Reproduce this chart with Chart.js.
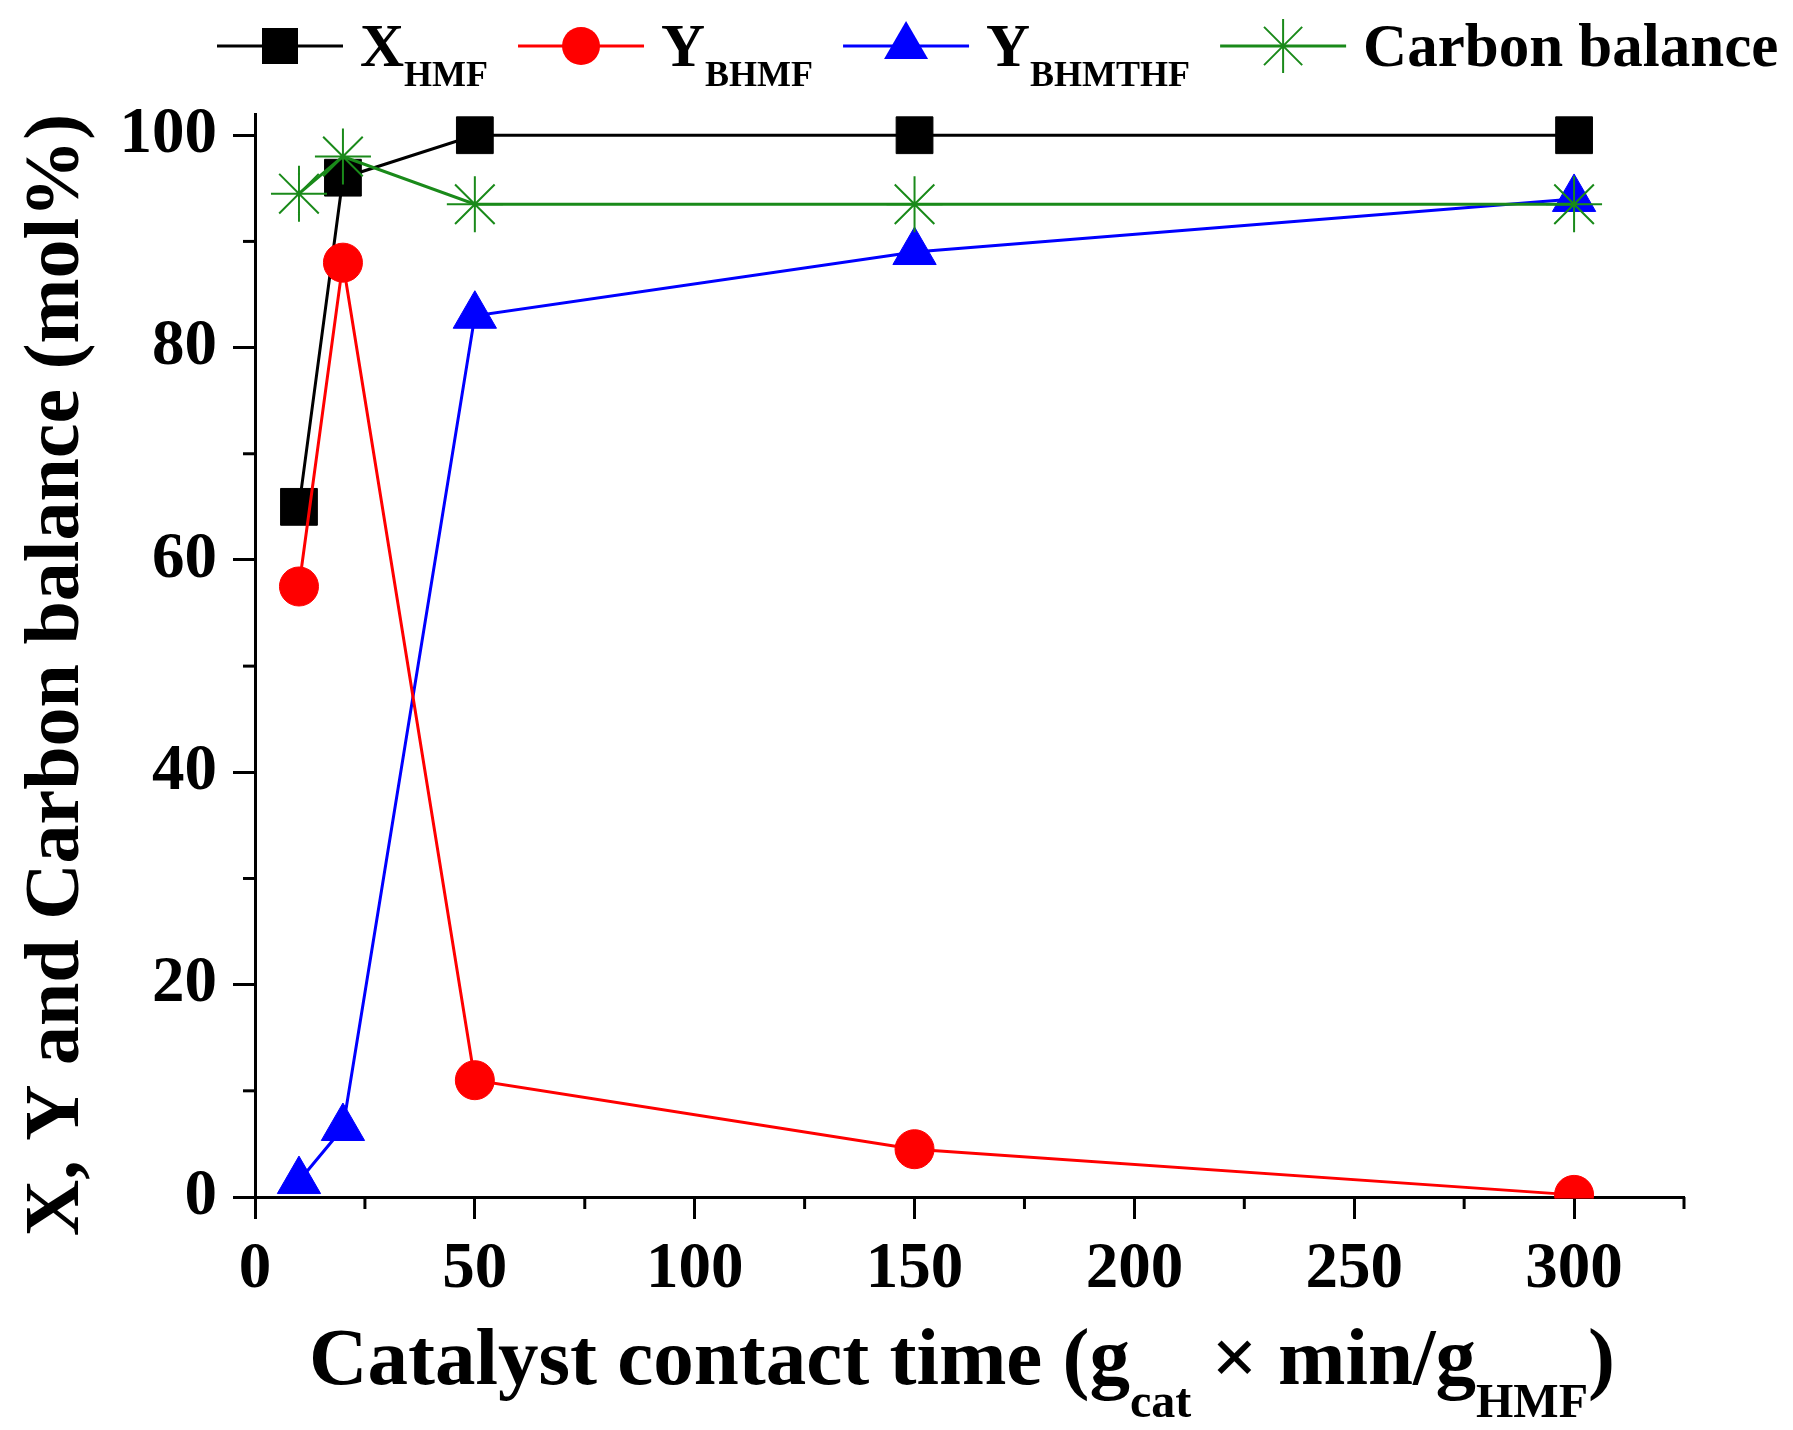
<!DOCTYPE html>
<html>
<head>
<meta charset="utf-8">
<script src="https://cdn.jsdelivr.net/npm/chart.js@4.4.0/dist/chart.umd.min.js"></script>
<style>
  html, body { margin: 0; padding: 0; background: #fff; }
  #wrap { width: 1793px; height: 1430px; }
</style>
</head>
<body>
<div id="wrap"><canvas id="chart" width="1793" height="1430"></canvas></div>
<script>
// values
const contactTime = [10, 20, 50, 150, 300];
const xHMF = [65, 96, 100, 100, 100];
const yBHMF = [57.5, 88, 11, 4.5, 0.2];
const yBHMTHF = [1.5, 6.5, 83, 89, 94];
const carbonBalance = [94.5, 98, 93.5, 93.5, 93.5];

const xTicks = [0, 50, 100, 150, 200, 250, 300];
const xMinor = [25, 75, 125, 175, 225, 275, 325];
const yTicks = [0, 20, 40, 60, 80, 100];
const yMinor = [10, 30, 50, 70, 90];

const GREEN = "#1a8a1a";
const SERIF = '"Liberation Serif", "Times New Roman", serif';

function series(label, values, color, style, radius, order) {
  return {
    label: label,
    data: contactTime.map((x, i) => ({ x: x, y: values[i] })),
    borderColor: color,
    backgroundColor: color,
    borderWidth: 3,
    pointStyle: style,
    pointRadius: radius,
    pointHoverRadius: radius,
    pointBorderWidth: style === "star" ? 2 : 1,
    clip: 1.5,
    order: order
  };
}

// text with subscripts: parts = [{t, sub}]
function richWidth(ctx, parts, size, subSize) {
  let w = 0;
  parts.forEach(p => {
    ctx.font = "bold " + (p.sub ? subSize : size) + "px " + SERIF;
    w += ctx.measureText(p.t).width;
  });
  return w;
}
function drawRich(ctx, parts, x, y, size, subSize, subDrop) {
  ctx.textAlign = "left";
  ctx.textBaseline = "alphabetic";
  parts.forEach(p => {
    ctx.font = "bold " + (p.sub ? subSize : size) + "px " + SERIF;
    ctx.fillText(p.t, x, p.sub ? y + subDrop : y);
    x += ctx.measureText(p.t).width;
  });
  return x;
}

function drawMarker(ctx, style, color, x, y) {
  ctx.fillStyle = color;
  ctx.strokeStyle = color;
  ctx.beginPath();
  if (style === "rect") {
    ctx.rect(x - 18, y - 18, 36, 36);
    ctx.fill();
  } else if (style === "circle") {
    ctx.arc(x, y, 19, 0, Math.PI * 2);
    ctx.fill();
  } else if (style === "triangle") {
    ctx.moveTo(x, y - 25);
    ctx.lineTo(x + 22, y + 13);
    ctx.lineTo(x - 22, y + 13);
    ctx.closePath();
    ctx.fill();
  } else {
    ctx.lineWidth = 2;
    for (let k = 0; k < 4; k++) {
      const a = k * Math.PI / 4;
      ctx.moveTo(x - 27 * Math.cos(a), y - 27 * Math.sin(a));
      ctx.lineTo(x + 27 * Math.cos(a), y + 27 * Math.sin(a));
    }
    ctx.stroke();
  }
}

const legendItems = [
  { color: "#000", style: "rect", parts: [{ t: "X" }, { t: "HMF", sub: true }] },
  { color: "#ff0000", style: "circle", parts: [{ t: "Y" }, { t: "BHMF", sub: true }] },
  { color: "#0000ff", style: "triangle", parts: [{ t: "Y" }, { t: "BHMTHF", sub: true }] },
  { color: GREEN, style: "star", parts: [{ t: "Carbon balance" }] }
];

const decorations = {
  id: "decorations",
  afterDraw(chart) {
    const ctx = chart.ctx;
    const xs = chart.scales.x, ys = chart.scales.y;
    const area = chart.chartArea;
    ctx.save();

    // minor ticks
    ctx.strokeStyle = "#000";
    ctx.lineWidth = 3;
    xMinor.forEach(v => {
      const p = xs.getPixelForValue(v);
      ctx.beginPath();
      ctx.moveTo(p, area.bottom);
      ctx.lineTo(p, area.bottom + 12);
      ctx.stroke();
    });
    yMinor.forEach(v => {
      const p = ys.getPixelForValue(v);
      ctx.beginPath();
      ctx.moveTo(area.left - 12, p);
      ctx.lineTo(area.left, p);
      ctx.stroke();
    });

    ctx.fillStyle = "#000";
    // x axis title
    const xParts = [
      { t: "Catalyst contact time (g" }, { t: "cat", sub: true },
      { t: " \u00d7 min/g" }, { t: "HMF", sub: true }, { t: ")" }
    ];
    const xw = richWidth(ctx, xParts, 81, 48);
    drawRich(ctx, xParts, 962 - xw / 2, 1384, 81, 48, 33);

    // y axis title
    ctx.save();
    ctx.translate(58, 675);
    ctx.rotate(-Math.PI / 2);
    ctx.font = "bold 78px " + SERIF;
    ctx.textAlign = "center";
    ctx.textBaseline = "middle";
    ctx.fillText("X, Y and Carbon balance (mol%)", 0, 0);
    ctx.restore();

    // legend
    let lx = 217;
    const ly = 46;
    legendItems.forEach(item => {
      ctx.strokeStyle = item.color;
      ctx.lineWidth = 3;
      ctx.beginPath();
      ctx.moveTo(lx, ly);
      ctx.lineTo(lx + 126, ly);
      ctx.stroke();
      drawMarker(ctx, item.style, item.color, lx + 63, ly);
      ctx.fillStyle = "#000";
      const end = drawRich(ctx, item.parts, lx + 143, 66, 61, 36, 20);
      lx = end + 30;
    });
    ctx.restore();
  }
};

const axisFont = { family: SERIF, size: 65, weight: "bold" };

new Chart(document.getElementById("chart"), {
  type: "line",
  data: {
    datasets: [
      series("X_HMF", xHMF, "#000000", "rect", 26, 3),
      series("Y_BHMF", yBHMF, "#ff0000", "circle", 19.5, 1),
      series("Y_BHMTHF", yBHMTHF, "#0000ff", "triangle", 25, 2),
      series("Carbon balance", carbonBalance, GREEN, "star", 28, 0)
    ]
  },
  options: {
    responsive: false,
    animation: false,
    devicePixelRatio: 1,
    layout: { padding: { top: 114, right: 109, left: 0, bottom: 0 } },
    plugins: { legend: { display: false }, tooltip: { enabled: false } },
    scales: {
      x: {
        type: "linear",
        min: 0,
        max: 325,
        afterBuildTicks: s => { s.ticks = xTicks.map(v => ({ value: v })); },
        afterFit: s => { s.height = 233; },
        ticks: { color: "#000", font: axisFont, padding: 12, maxRotation: 0, autoSkip: false },
        grid: { drawOnChartArea: false, tickLength: 22, tickWidth: 3, tickColor: "#000" },
        border: { color: "#000", width: 3 }
      },
      y: {
        type: "linear",
        min: 0,
        max: 102,
        afterBuildTicks: s => { s.ticks = yTicks.map(v => ({ value: v })); },
        afterFit: s => { s.width = 255; },
        ticks: { color: "#000", font: axisFont, padding: 16, autoSkip: false },
        grid: { drawOnChartArea: false, tickLength: 22, tickWidth: 3, tickColor: "#000" },
        border: { color: "#000", width: 3 }
      }
    }
  },
  plugins: [decorations]
});
</script>
</body>
</html>
